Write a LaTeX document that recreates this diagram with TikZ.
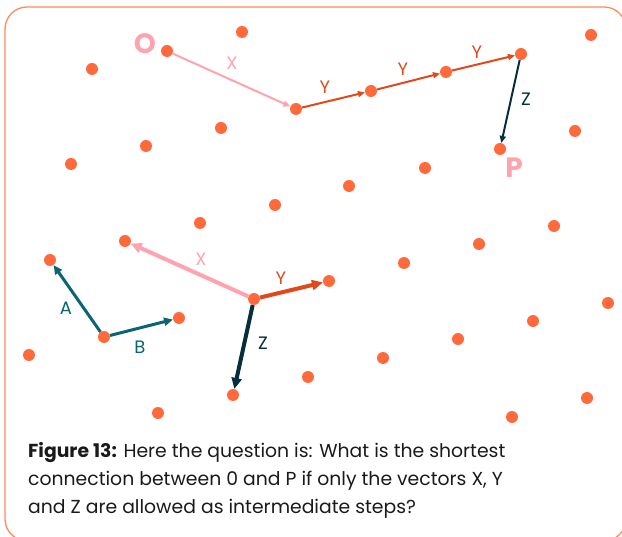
\documentclass[tikz,border=0pt]{standalone}
\usepackage{fontspec}
\setmainfont{Poppins}
\usetikzlibrary{arrows.meta}
\definecolor{dotc}{HTML}{FF6A3D}
\definecolor{framec}{HTML}{FF8A5E}
\definecolor{pinkc}{HTML}{FFA3B1}
\definecolor{redc}{HTML}{E04A1A}
\definecolor{navyc}{HTML}{062E3D}
\definecolor{tealc}{HTML}{0A6473}
\definecolor{textc}{HTML}{1A1A1A}
\tikzset{
  dotn/.style={circle,fill=dotc,minimum size=12pt,inner sep=0pt},
  thinvec/.style={line width=2pt,-{Triangle[length=7pt,width=6pt]}},
  thickvec/.style={line width=4pt,-{Triangle[length=11pt,width=10pt]}},
  midvec/.style={line width=3pt,-{Triangle[length=9pt,width=8pt]}},
  lbl/.style={font=\fontsize{18}{18}\selectfont,inner sep=0pt},
  biglbl/.style={font=\fontsize{28}{28}\selectfont\bfseries,inner sep=0pt,text=pinkc},
  captxt/.style={font=\fontsize{18.8}{22}\selectfont,text=textc,anchor=base west,inner sep=0pt}
}
\begin{document}
\begin{tikzpicture}[x=1pt,y=-1pt]
\useasboundingbox (0,0) rectangle (622,537);
\begin{scope}
\clip (0,0) rectangle (622,537);
\draw[framec,line width=1.3pt,rounded corners=22pt] (5,7) rectangle (626,541);
\end{scope}
% dots
\node[dotn] (p1) at (242,32) {};
\node[dotn] (p2) at (591,35) {};
\node[dotn] (O) at (167,51) {};
\node[dotn] (p4) at (92,69) {};
\node[dotn] (t1) at (296,109) {};
\node[dotn] (t2) at (371,91) {};
\node[dotn] (t3) at (446,72) {};
\node[dotn] (t4) at (521,54) {};
\node[dotn] (p9) at (221,128) {};
\node[dotn] (p10) at (146,146) {};
\node[dotn] (p11) at (71,164) {};
\node[dotn] (p12) at (575,131) {};
\node[dotn] (P) at (500,149) {};
\node[dotn] (p14) at (425,168) {};
\node[dotn] (p15) at (349,186) {};
\node[dotn] (p16) at (275,205) {};
\node[dotn] (p17) at (200,223) {};
\node[dotn] (xe) at (125,241) {};
\node[dotn] (ae) at (50,260) {};
\node[dotn] (p20) at (554,226) {};
\node[dotn] (p21) at (479,244) {};
\node[dotn] (p22) at (404,263) {};
\node[dotn] (ye) at (329,281) {};
\node[dotn] (be) at (179,318) {};
\node[dotn] (ao) at (104,337) {};
\node[dotn] (p27) at (29,355) {};
\node[dotn] (p28) at (608,303) {};
\node[dotn] (p29) at (533,321) {};
\node[dotn] (p30) at (458,339) {};
\node[dotn] (p31) at (383,358) {};
\node[dotn] (p32) at (308,377) {};
\node[dotn] (ze) at (233,395) {};
\node[dotn] (p34) at (158,413) {};
\node[dotn] (p35) at (587,398) {};
\node[dotn] (p36) at (512,417) {};
\node[dotn] (c) at (254,299) {};
% top path
\draw[thinvec,pinkc] (O) -- (t1);
\draw[thinvec,redc] (t1) -- (t2);
\draw[thinvec,redc] (t2) -- (t3);
\draw[thinvec,redc] (t3) -- (t4);
\draw[thinvec,navyc] (t4) -- (P);
% lower vectors
\draw[thickvec,pinkc] (c) -- (xe);
\draw[thickvec,redc] (c) -- (ye);
\draw[thickvec,navyc] (c) -- (ze);
\draw[midvec,tealc] (ao) -- (ae);
\draw[midvec,tealc] (ao) -- (be);
% labels
\node[biglbl] (lO) at (145,44) {O};
\node[biglbl] (lP) at (514,168) {P};
\node[lbl,text=pinkc] (lx1) at (232,63) {X};
\node[lbl,text=redc] (ly1) at (325,87) {Y};
\node[lbl,text=redc] (ly2) at (403,69) {Y};
\node[lbl,text=redc] (ly3) at (477,52) {Y};
\node[lbl,text=navyc] (lz1) at (526,99) {Z};
\node[lbl,text=pinkc] (lx2) at (201,259) {X};
\node[lbl,text=redc] (ly4) at (281,278) {Y};
\node[lbl,text=navyc] (lz2) at (263,343) {Z};
\node[lbl,text=tealc] (la) at (66,308) {A};
\node[lbl,text=tealc] (lb) at (140,347) {B};
% caption
\node[captxt] (c1) at (28,458) {\textbf{Figure 13:} Here the question is: What is the shortest};
\node[captxt] (c2) at (28,486) {connection between 0 and P if only the vectors X, Y};
\node[captxt] (c3) at (28,514) {and Z are allowed as intermediate steps?};
\end{tikzpicture}
\end{document}
